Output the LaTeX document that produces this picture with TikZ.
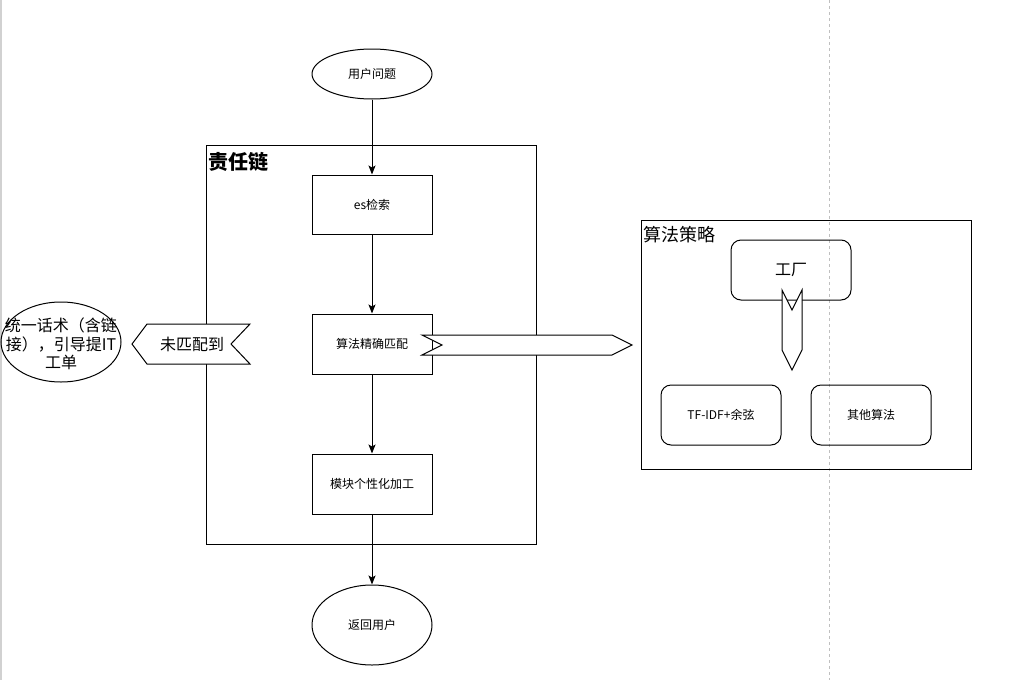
\documentclass[tikz,border=0pt]{standalone}
\usepackage{fontspec}
\setmainfont{Noto Sans CJK SC}
\usetikzlibrary{shapes.geometric,arrows.meta}
\begin{document}
\begin{tikzpicture}[x=1pt,y=-1pt,line width=1pt,
  box/.style={draw,minimum width=120pt,minimum height=60pt,inner sep=0pt,font=\fontsize{12}{14}\selectfont},
  rbox/.style={box,rounded corners=10pt},
  ell/.style={draw,ellipse,minimum width=120pt,minimum height=50pt,inner sep=0pt,font=\fontsize{12}{14}\selectfont},
  cont/.style={draw,anchor=north west,inner sep=0pt},
  arr/.style={-{Stealth[length=9pt,width=7pt,inset=2pt]}},
  flag/.style={draw,fill=white,line join=miter}]
\useasboundingbox (0,0) rectangle (1011,680);
\fill[white] (0,0) rectangle (1011,680);
% page guides
\draw[line width=1.5pt,black!18] (0.75,0) -- (0.75,680);
\draw[black!25,dash pattern=on 3pt off 3pt] (829,0) -- (829,680);
% containers
\node[cont,minimum width=330pt,minimum height=399pt] (chain) at (206,145) {};
\node[anchor=north west,inner sep=0pt,font=\fontsize{20}{23}\selectfont\bfseries] (chainlbl) at (208,152) {责任链};
\node[cont,minimum width=330pt,minimum height=249pt] (algc) at (641,220) {};
\node[anchor=north west,inner sep=0pt,font=\fontsize{18}{21}\selectfont] (algclbl) at (643,226) {算法策略};
% main chain
\node[ell] (q) at (372,74) {用户问题};
\node[box,minimum height=59pt] (es) at (372,204.5) {es检索};
\node[box] (alg) at (372,344) {算法精确匹配};
\node[box] (mod) at (372,484) {模块个性化加工};
\node[ell,minimum height=80pt] (ret) at (372,625) {返回用户};
\draw[arr] (q) -- (es);
\draw[arr] (es) -- (alg);
\draw[arr] (alg) -- (mod);
\draw[arr] (mod) -- (ret);
% left ellipse
\node[draw,ellipse,minimum width=120pt,minimum height=80pt,inner sep=0pt] (fallback) at (61,342) {};
\node[align=center,inner sep=0pt,font=\fontsize{16}{18.5}\selectfont] (fbtext) at (61,344) {统一话术（含链\\接），引导提IT\\工单};
% strategy boxes
\node[rbox,font=\fontsize{16}{18}\selectfont] (fac) at (791,270) {工厂};
\node[rbox] (tfidf) at (721,415) {TF-IDF+余弦};
\node[rbox] (other) at (871,415) {其他算法};
% block arrows
\draw[flag] (132,344) -- (147,324) -- (250,324) -- (231,344) -- (250,364) -- (147,364) -- cycle;
\node[font=\fontsize{16}{18}\selectfont,inner sep=0pt] (nomatch) at (192,344) {未匹配到};
\draw[flag] (422,335) -- (612,335) -- (632,345) -- (612,355) -- (422,355) -- (442,345) -- cycle;
\draw[flag] (782,290) -- (792,310) -- (802,290) -- (802,350) -- (792,370) -- (782,350) -- cycle;
\end{tikzpicture}
\end{document}
